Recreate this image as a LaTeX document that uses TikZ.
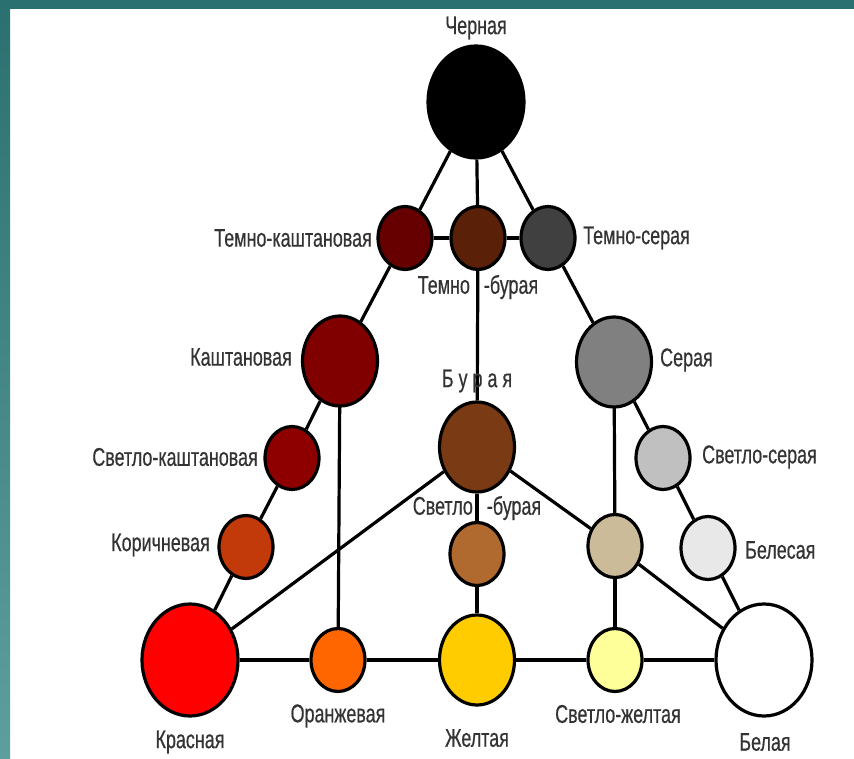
\documentclass[tikz,border=0pt]{standalone}
\usepackage{fontspec}
\setmainfont{Liberation Sans}
\newfontfamily\labfont[FakeStretch=0.70,FakeBold=0.5]{Liberation Sans}
\usetikzlibrary{shapes.geometric,backgrounds}
\definecolor{tealtop}{HTML}{2B7070}
\definecolor{tealbot}{HTML}{5E9E9E}
\definecolor{txtgray}{HTML}{333333}
\definecolor{cDK}{HTML}{660000}
\definecolor{cDB}{HTML}{5A2008}
\definecolor{cDG}{HTML}{404040}
\definecolor{cK}{HTML}{800000}
\definecolor{cG}{HTML}{808080}
\definecolor{cB}{HTML}{7A3A14}
\definecolor{cLK}{HTML}{8E0000}
\definecolor{cLG}{HTML}{C0C0C0}
\definecolor{cLB}{HTML}{B06A30}
\definecolor{cKor}{HTML}{C23A0A}
\definecolor{cTan}{HTML}{CCBB99}
\definecolor{cBel}{HTML}{E8E8E8}
\definecolor{cRed}{HTML}{FF0000}
\definecolor{cOr}{HTML}{FF6600}
\definecolor{cYe}{HTML}{FFCC00}
\definecolor{cLY}{HTML}{FFFF99}
\tikzset{
  cnode/.style={ellipse, draw=black, line width=3.2pt, inner sep=0pt},
  huge/.style={cnode, minimum width=96pt, minimum height=112pt},
  big/.style={cnode, minimum width=75pt, minimum height=90pt},
  small/.style={cnode, minimum width=54pt, minimum height=63pt},
  lab/.style={font=\labfont\fontsize{25.6}{25.6}\selectfont, text=txtgray, inner sep=0pt},
  link/.style={line width=3.2pt, black}
}
\begin{document}
\begin{tikzpicture}[x=1pt,y=-1pt]
\useasboundingbox (0,0) rectangle (854,759);
% nodes
\node[huge, fill=black] (cher) at (476,102) {};
\node[small, fill=cDK] (tk) at (405,238) {};
\node[small, fill=cDB] (tb) at (478,238) {};
\node[small, fill=cDG] (ts) at (548,238) {};
\node[big, fill=cK] (k) at (340,361) {};
\node[big, fill=cG] (s) at (614,362) {};
\node[big, fill=cB] (b) at (477,447) {};
\node[small, fill=cLK] (lk) at (292,458) {};
\node[small, fill=cLG] (ls) at (663,458) {};
\node[small, fill=cLB] (lb) at (477,554) {};
\node[small, fill=cKor] (kor) at (246,547) {};
\node[small, fill=cTan] (tan) at (615,546) {};
\node[small, fill=cBel] (bls) at (708,548) {};
\node[huge, fill=cRed] (red) at (190,660) {};
\node[small, fill=cOr] (or) at (338,660) {};
\node[big, fill=cYe] (ye) at (477,660) {};
\node[small, fill=cLY] (ly) at (615,660) {};
\node[huge, fill=white] (wh) at (764,660) {};
% labels
\node[lab] (lcher) at (476,28) {Черная};
\node[lab, anchor=east] (ltk) at (372,238) {Темно-каштановая};
\node[lab, anchor=west] (lts) at (583,238) {Темно-серая};
\node[lab] (ltb) at (478,287) {Темно\hspace{14pt}-бурая};
\node[lab, anchor=east] (lk0) at (292,357) {Каштановая};
\node[lab, anchor=west] (ls0) at (660,360) {Серая};
\node[lab] (lb0) at (477,381) {Б у р а я};
\node[lab, anchor=east] (llk) at (258,457) {Светло-каштановая};
\node[lab, anchor=west] (lls) at (702,457) {Светло-серая};
\node[lab] (llb) at (477,508) {Светло\hspace{14pt}-бурая};
\node[lab, anchor=east] (lkor) at (210,545) {Коричневая};
\node[lab, anchor=west] (lbls) at (745,550) {Белесая};
\node[lab] (lred) at (190,742) {Красная};
\node[lab] (lor) at (338,716) {Оранжевая};
\node[lab] (lye) at (477,738) {Желтая};
\node[lab] (lly) at (618,714) {Светло-желтая};
\node[lab] (lwh) at (765,742) {Белая};
\begin{pgfonlayer}{background}
\fill[white] (0,0) rectangle (854,759);
\shade[top color=tealtop, bottom color=tealbot] (0,0) rectangle (10,759);
\fill[tealtop] (0,0) rectangle (854,9);
% connectors
\draw[link] (cher) -- (tk);
\draw[link] (cher) -- (tb);
\draw[link] (cher) -- (ts);
\draw[link] (tk) -- (tb);
\draw[link] (tb) -- (ts);
\draw[link] (tk) -- (k);
\draw[link] (k) -- (lk);
\draw[link] (lk) -- (kor);
\draw[link] (kor) -- (red);
\draw[link] (ts) -- (s);
\draw[link] (s) -- (ls);
\draw[link] (ls) -- (bls);
\draw[link] (bls) -- (wh);
\draw[link] (tb) -- (b);
\draw[link] (b) -- (lb);
\draw[link] (lb) -- (ye);
\draw[link] (k.center) -- (or);
\draw[link] (s.center) -- (tan);
\draw[link] (tan) -- (ly);
\draw[link] (b) -- (red);
\draw[link] (b) -- (tan);
\draw[link] (tan) -- (wh);
\draw[link] (red) -- (or);
\draw[link] (or) -- (ye);
\draw[link] (ye) -- (ly);
\draw[link] (ly) -- (wh);
\end{pgfonlayer}
\end{tikzpicture}
\end{document}
